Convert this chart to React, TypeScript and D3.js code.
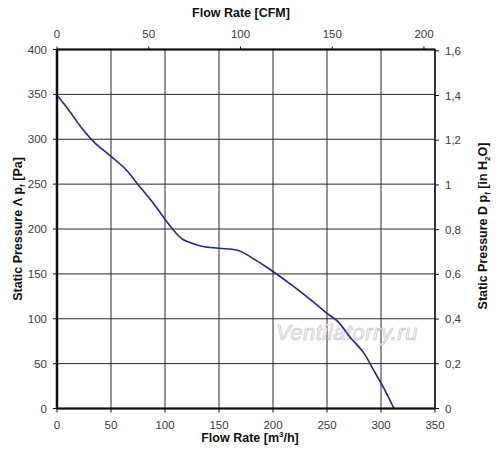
import React from 'react';
import * as d3 from 'd3';

// fan curve
const flowM3h = [0, 10, 22, 35, 50, 64, 74, 89, 100, 107, 112, 117, 125, 135, 150, 168, 179, 196, 219, 237, 250, 260, 271, 284, 293, 302, 312];
const pressurePa = [349, 334, 314, 296, 281, 266, 251, 229, 211, 200, 193, 188, 184, 180.5, 178.5, 176, 169, 156, 136, 119, 106, 97, 80, 62, 43, 24, 0];

const bottomTicks = [0, 50, 100, 150, 200, 250, 300, 350];
const leftTicks = [0, 50, 100, 150, 200, 250, 300, 350, 400];
const topTicks = [0, 50, 100, 150, 200];
const rightTicks = [0, 0.2, 0.4, 0.6, 0.8, 1, 1.2, 1.4, 1.6];

const M3H_PER_CFM = 1.699;
const PA_PER_INH2O = 249.09;

const width = 500;
const height = 460;
const margin = { top: 49.5, right: 65, bottom: 51.5, left: 57 };

const App = () => {
  const x = d3.scaleLinear().domain([0, 350]).range([margin.left, width - margin.right]);
  const y = d3.scaleLinear().domain([0, 400]).range([height - margin.bottom, margin.top]);
  const xCfm = d3
    .scaleLinear()
    .domain([0, 350 / M3H_PER_CFM])
    .range([margin.left, width - margin.right]);
  const yIn = d3
    .scaleLinear()
    .domain([0, 400 / PA_PER_INH2O])
    .range([height - margin.bottom, margin.top]);

  const line = d3
    .line<number>()
    .x((d, i) => x(flowM3h[i]))
    .y((d) => y(d))
    .curve(d3.curveCatmullRom.alpha(0.5));

  const fmtComma = (v: number) => String(+v.toFixed(1)).replace('.', ',');
  const labelStyle = { fontFamily: 'Liberation Sans, Arial, sans-serif', fontSize: 11.5, fill: '#3a3a3a' };
  const titleStyle = {
    fontFamily: 'Liberation Sans, Arial, sans-serif',
    fontSize: 12.5,
    fontWeight: 'bold' as const,
    fill: '#111',
  };

  const x0 = x(0);
  const x1 = x(350);
  const y0 = y(0);
  const y1 = y(400);

  return (
    <svg
      width={width}
      height={height}
      style={{ position: 'absolute', left: 0, top: 0, background: '#fff' }}
    >
      {/* grid */}
      <g stroke="#2a2a2a" strokeWidth={1}>
        {bottomTicks.map((t) => (
          <line key={'v' + t} x1={x(t)} x2={x(t)} y1={y0} y2={y1} />
        ))}
        {leftTicks.map((t) => (
          <line key={'h' + t} x1={x0} x2={x1} y1={y(t)} y2={y(t)} />
        ))}
      </g>

      {/* watermark */}
      <text
        x={347}
        y={340}
        textAnchor="middle"
        fontFamily="Liberation Sans, Arial, sans-serif"
        fontStyle="italic"
        fontSize={22}
        fill="#fafafa"
        stroke="#c4c4c4"
        strokeWidth={0.7}
        letterSpacing={0.5}
      >
        Ventilatorry.ru
      </text>

      {/* curve */}
      <path d={line(pressurePa) || ''} fill="none" stroke="#24249a" strokeWidth={1.6} />

      {/* frame */}
      <rect x={x0} y={y1} width={x1 - x0} height={y0 - y1} fill="none" stroke="#111" strokeWidth={1.5} />
      <line x1={x0} x2={x0} y1={y1} y2={y0} stroke="#111" strokeWidth={2.5} />
      <line x1={x0} x2={x1} y1={y1} y2={y1} stroke="#111" strokeWidth={2} />
      <line x1={x0} x2={x1} y1={y0} y2={y0} stroke="#111" strokeWidth={2} />

      {/* bottom axis */}
      {bottomTicks.map((t) => (
        <g key={'b' + t}>
          <line x1={x(t)} x2={x(t)} y1={y0} y2={y0 + 4} stroke="#111" />
          <text x={x(t)} y={y0 + 20} textAnchor="middle" {...labelStyle}>
            {t}
          </text>
        </g>
      ))}
      {/* left axis */}
      {leftTicks.map((t) => (
        <g key={'l' + t}>
          <line x1={x0 - 4} x2={x0} y1={y(t)} y2={y(t)} stroke="#111" />
          <text x={x0 - 10} y={y(t) + 4} textAnchor="end" {...labelStyle}>
            {t}
          </text>
        </g>
      ))}
      {/* top axis */}
      {topTicks.map((t) => (
        <g key={'t' + t}>
          <line x1={xCfm(t)} x2={xCfm(t)} y1={y1 - 3} y2={y1} stroke="#111" />
          <text x={xCfm(t)} y={y1 - 12} textAnchor="middle" {...labelStyle}>
            {t}
          </text>
        </g>
      ))}
      {/* right axis */}
      {rightTicks.map((t) => (
        <g key={'r' + t}>
          <line x1={x1} x2={x1 + 4} y1={yIn(t)} y2={yIn(t)} stroke="#111" />
          <text x={x1 + 10} y={yIn(t) + 4} textAnchor="start" {...labelStyle}>
            {fmtComma(t)}
          </text>
        </g>
      ))}

      {/* titles */}
      <text x={241} y={17} textAnchor="middle" {...titleStyle}>
        Flow Rate [CFM]
      </text>
      <text x={250} y={442} textAnchor="middle" {...titleStyle}>
        Flow Rate [m
        <tspan fontSize={8} dy={-5}>
          3
        </tspan>
        <tspan dy={5}>/h]</tspan>
      </text>
      <text transform={`translate(22,${(y0 + y1) / 2}) rotate(-90)`} textAnchor="middle" {...titleStyle}>
        Static Pressure Λ p
        <tspan fontSize={8} dy={3}>
          f
        </tspan>
        <tspan dy={-3}> [Pa]</tspan>
      </text>
      <text transform={`translate(487,${(y0 + y1) / 2 - 3}) rotate(-90)`} textAnchor="middle" {...titleStyle}>
        Static Pressure D p
        <tspan fontSize={8} dy={3}>
          f
        </tspan>
        <tspan dy={-3}> [in H</tspan>
        <tspan fontSize={8} dy={3}>
          2
        </tspan>
        <tspan dy={-3}>O]</tspan>
      </text>
    </svg>
  );
};

export default App;
